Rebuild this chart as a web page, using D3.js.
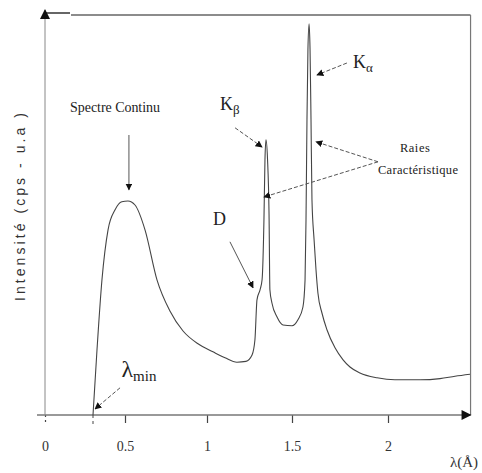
<!DOCTYPE html>
<html>
<head>
<meta charset="utf-8">
<script src="https://cdn.jsdelivr.net/npm/d3@7"></script>
<style>
  body { margin: 0; background: #fff; }
  svg { display: block; }
</style>
</head>
<body>
<svg id="chart"></svg>
<script>
// spectre : longueur d'onde (A) et intensite (u.a.)
var lambda = [0.300, 0.325, 0.356, 0.394, 0.438, 0.480, 0.518, 0.561, 0.622, 0.695, 0.774, 0.854,
  0.945, 1.035, 1.106, 1.176, 1.229, 1.265, 1.282, 1.294, 1.312, 1.324, 1.335, 1.341, 1.347,
  1.356, 1.365, 1.370, 1.382, 1.412, 1.447, 1.500, 1.531, 1.557, 1.568, 1.573, 1.578, 1.583,
  1.589, 1.594, 1.599, 1.604, 1.615, 1.625, 1.635, 1.656, 1.682, 1.724, 1.766, 1.802, 1.854,
  1.943, 2.036, 2.167, 2.271, 2.349, 2.427];
var intensity = [0, 16.3, 33.8, 46.3, 51.3, 53.3, 53.5, 52.5, 46.3, 33.8, 26.0, 21.0,
  17.8, 15.8, 14.3, 13.2, 13.4, 15.0, 18.8, 28.8, 31.3, 33.8, 48.8, 63.8, 68.8,
  64.0, 50.0, 31.3, 28.0, 24.5, 22.5, 22.3, 23.8, 27.0, 33.8, 48.8, 73.8, 91.3,
  97.8, 91.3, 73.8, 53.8, 43.8, 36.3, 30.5, 25.5, 21.3, 16.8, 13.8, 12.0, 10.5,
  9.3, 8.8, 8.8, 9.1, 9.7, 10.2];

var xTicks = [0, 0.5, 1, 1.5, 2];
var xTickLabels = ["0", "0.5", "1", "1.5", "2"];
var lambdaMin = 0.30;
var xMax = 2.43;
var yMax = 100;

// annotations (coordonnees en unites du graphe)
var labelText = ["Spectre Continu", "D", "Raies", "Caractéristique"];
var labelPos = [[0.4375, 75.8], [1.035, 47.5], [2.14, 65.8], [2.156, 60.3]];
var arrowFrom = [[0.524, 70.0], [1.165, 71.8], [1.786, 88.0], [1.948, 63.3], [1.948, 63.3], [1.135, 43.3], [0.469, 6.8]];
var arrowTo   = [[0.524, 56.3], [1.324, 67.0], [1.630, 85.0], [1.625, 68.3], [1.335, 54.5], [1.271, 31.8], [0.3125, 1.5]];
var arrowDashed = [false, true, true, true, true, false, true];

var width = 482, height = 473;

var svg = d3.select("#chart")
  .attr("width", width)
  .attr("height", height);

var x = d3.scaleLinear()
  .domain([0, 0.5, 1, 1.5, 2])
  .range([45, 125, 207, 292, 388]);

var y = d3.scaleLinear()
  .domain([0, yMax])
  .range([415, 15]);

var defs = svg.append("defs");
defs.append("marker")
  .attr("id", "head")
  .attr("viewBox", "0 0 10 10")
  .attr("refX", 9).attr("refY", 5)
  .attr("markerWidth", 7).attr("markerHeight", 7)
  .attr("markerUnits", "userSpaceOnUse")
  .attr("orient", "auto")
  .append("path")
    .attr("d", "M0,0L10,5L0,10z")
    .attr("fill", "#111");
defs.append("marker")
  .attr("id", "axisHead")
  .attr("viewBox", "0 0 10 10")
  .attr("refX", 9).attr("refY", 5)
  .attr("markerWidth", 12).attr("markerHeight", 10)
  .attr("markerUnits", "userSpaceOnUse")
  .attr("orient", "auto")
  .append("path")
    .attr("d", "M0,0L10,5L0,10z")
    .attr("fill", "#111");

// cadre haut et droit
svg.append("line")
  .attr("x1", x(0)).attr("x2", x(0) + 25)
  .attr("y1", y(yMax) - 2).attr("y2", y(yMax) - 2)
  .attr("stroke", "#333").attr("stroke-width", 1.5);
svg.append("line")
  .attr("x1", x(0) + 26).attr("x2", x(xMax))
  .attr("y1", y(yMax)).attr("y2", y(yMax))
  .attr("stroke", "#666").attr("stroke-width", 1.5);
svg.append("line")
  .attr("x1", x(xMax)).attr("x2", x(xMax))
  .attr("y1", y(yMax)).attr("y2", y(0))
  .attr("stroke", "#777").attr("stroke-width", 1.2);

// axe x
var xAxis = svg.append("g")
  .attr("transform", "translate(0," + y(0) + ")")
  .call(d3.axisBottom(x)
    .tickValues(xTicks)
    .tickFormat(function(d, i) { return xTickLabels[i]; })
    .tickSize(8)
    .tickPadding(18));
xAxis.select(".domain").remove();
xAxis.selectAll(".tick line")
  .attr("stroke", "#444")
  .attr("stroke-width", 1.2)
  .attr("stroke-dasharray", function(d) { return d === 0 ? "2,3" : null; });
xAxis.selectAll(".tick text")
  .attr("font-family", "Liberation Serif, serif")
  .attr("font-size", 14)
  .attr("fill", "#333");

svg.append("line")
  .attr("x1", x(-0.05)).attr("x2", x(xMax))
  .attr("y1", y(0)).attr("y2", y(0))
  .attr("stroke", "#777").attr("stroke-width", 1.5)
  .attr("marker-end", "url(#axisHead)");

// trait pointille sous lambda min
svg.append("line")
  .attr("x1", x(lambdaMin)).attr("x2", x(lambdaMin))
  .attr("y1", y(0)).attr("y2", y(0) + 12)
  .attr("stroke", "#444").attr("stroke-dasharray", "3,3");

// axe y
svg.append("line")
  .attr("x1", x(0)).attr("x2", x(0))
  .attr("y1", y(0)).attr("y2", y(yMax) - 5)
  .attr("stroke", "#888").attr("stroke-width", 1)
  .attr("marker-end", "url(#axisHead)");

svg.append("text")
  .attr("transform", "translate(25," + y(52) + ") rotate(-90)")
  .attr("text-anchor", "middle")
  .attr("font-family", "Liberation Sans, sans-serif")
  .attr("font-size", 14)
  .attr("textLength", 188)
  .attr("fill", "#333")
  .text("Intensité (cps - u.a )");

svg.append("text")
  .attr("x", 450).attr("y", 467)
  .attr("font-family", "Liberation Serif, serif")
  .attr("font-size", 15)
  .attr("fill", "#333")
  .text("λ(Å)");

// courbe
var line = d3.line()
  .x(function(d, i) { return x(lambda[i]); })
  .y(function(d) { return y(d); })
  .curve(d3.curveMonotoneX);

svg.append("path")
  .datum(intensity)
  .attr("d", line)
  .attr("fill", "none")
  .attr("stroke", "#444")
  .attr("stroke-width", 1.1);

// fleches
svg.selectAll(".arrow")
  .data(arrowFrom)
  .enter().append("line")
    .attr("class", "arrow")
    .attr("x1", function(d) { return x(d[0]); })
    .attr("y1", function(d) { return y(d[1]); })
    .attr("x2", function(d, i) { return x(arrowTo[i][0]); })
    .attr("y2", function(d, i) { return y(arrowTo[i][1]); })
    .attr("stroke", "#555")
    .attr("stroke-width", 1)
    .attr("stroke-dasharray", function(d, i) { return arrowDashed[i] ? "4,2" : null; })
    .attr("marker-end", "url(#head)");

// textes
var widths = [90, null, 30, 80];
var sizes = [14, 18, 12.5, 12.5];
svg.selectAll(".lbl")
  .data(labelText)
  .enter().append("text")
    .attr("class", "lbl")
    .attr("x", function(d, i) { return x(labelPos[i][0]); })
    .attr("y", function(d, i) { return y(labelPos[i][1]); })
    .attr("text-anchor", function(d, i) { return i === 1 ? "start" : "middle"; })
    .attr("font-family", "Liberation Serif, serif")
    .attr("font-size", function(d, i) { return sizes[i]; })
    .attr("fill", "#222")
    .each(function(d, i) { if (widths[i]) d3.select(this).attr("textLength", widths[i]); })
    .text(function(d) { return d; });

function subLabel(px, py, main, sub, mainSize, subSize) {
  var t = svg.append("text")
    .attr("x", x(px)).attr("y", y(py))
    .attr("font-family", "Liberation Serif, serif")
    .attr("fill", "#222");
  t.append("tspan").attr("font-size", mainSize).text(main);
  t.append("tspan").attr("font-size", subSize).attr("dy", 4).text(sub);
}
subLabel(1.076, 76.3, "K", "β", 18, 13);
subLabel(1.818, 86.8, "K", "α", 18, 13);
subLabel(0.478, 9.5, "λ", "min", 24, 15);
</script>
</body>
</html>
